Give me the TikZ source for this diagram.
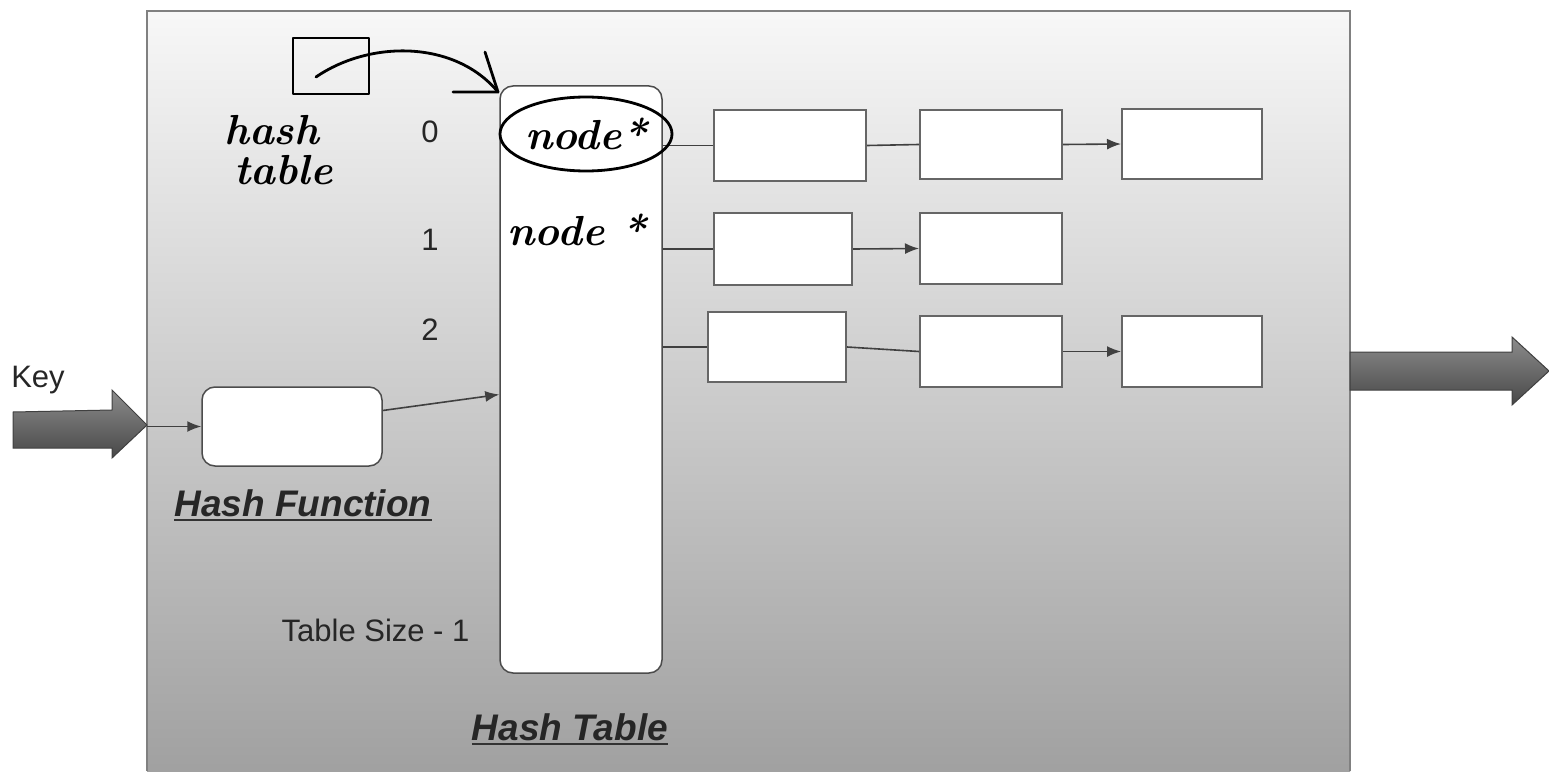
\documentclass[tikz,border=0pt]{standalone}
\usepackage{fontspec}
\newfontfamily\lab{Liberation Sans}
\usetikzlibrary{calc,arrows.meta,shapes.geometric}
\begin{document}
\begin{tikzpicture}[x=1pt,y=-1pt,
  lab/.style={font=\lab\fontsize{31}{36}\selectfont, text=black!85},
  titlelab/.style={font=\lab\bfseries\itshape\fontsize{37}{44}\selectfont, inner sep=0pt, text=black!85},
  rbox/.style={draw=black!70, line width=1.5pt, fill=white, rounded corners=13pt},
  cell/.style={draw=black!60, line width=2pt, fill=white},
  link/.style={draw=black!75, line width=1.6pt},
  arr/.style={link, -{Latex[length=14pt,width=11pt]}},
  hand/.style={line width=2.8pt, draw=black, line cap=round, line join=round},
  handtext/.style={font=\rmfamily\bfseries\itshape\fontsize{42}{38}\selectfont, inner sep=0pt},
  fatarrow/.style={draw=black!75, line width=1pt, top color=black!45, bottom color=black!72}]

\useasboundingbox (0,0) rectangle (1549,773);
\clip (0,0) rectangle (1549,773);

% background panel
\path[top color=black!3, bottom color=black!37] (147,11) rectangle (1350,771);
\draw[black!50, line width=2pt] (147,771) -- (147,11) -- (1350,11) -- (1350,771);

% fat arrows
\path[fatarrow] (13,412) -- (112,410) -- (112,390) -- (147,425) -- (112,458) -- (112,448) -- (13,448) -- cycle;
\path[fatarrow] (1350,352) -- (1512,352) -- (1512,337) -- (1549,371) -- (1512,405) -- (1512,390) -- (1350,390) -- cycle;

% main boxes
\node[rbox, minimum width=180pt, minimum height=79pt] (hf) at (292,426.5) {};
\node[rbox, minimum width=162pt, minimum height=587pt] (ht) at (581,379.5) {};

% chains
\node[cell, minimum width=152pt, minimum height=71pt] (b00) at (790,145.5) {};
\node[cell, minimum width=142pt, minimum height=69pt] (b01) at (991,144.5) {};
\node[cell, minimum width=140pt, minimum height=70pt] (b02) at (1192,144) {};
\node[cell, minimum width=138pt, minimum height=72pt] (b10) at (783,249) {};
\node[cell, minimum width=142pt, minimum height=71pt] (b11) at (991,248.5) {};
\node[cell, minimum width=138pt, minimum height=70pt] (b20) at (777,347) {};
\node[cell, minimum width=142pt, minimum height=71pt] (b21) at (991,351.5) {};
\node[cell, minimum width=140pt, minimum height=71pt] (b22) at (1192,351.5) {};

% labels
\node[lab] (key) at (38,380) {Key};
\node[lab] (i0) at (430,132) {0};
\node[lab] (i1) at (430,240) {1};
\node[lab] (i2) at (430,330) {2};
\node[lab, anchor=east] (ilast) at (473,630) {Table Size - 1};
\node[titlelab] (hfl) at (303,503) {Hash Function};
\draw[black!80, line width=2.5pt] ($(hfl.base west)+(0,4)$) -- ($(hfl.base east)+(0,4)$);
\node[titlelab] (htl) at (570,727) {Hash Table};
\draw[black!80, line width=2.5pt] ($(htl.base west)+(0,4)$) -- ($(htl.base east)+(0,4)$);

% connectors
\coordinate (keyin) at (147,426.5);
\draw[arr] (keyin) -- (hf.west);
\draw[arr] ($(hf.east)+(0,-16)$) -- ($(ht.west)+(0,15)$);
\draw[link] (ht.east |- b00.west) -- (b00.west);
\draw[link] (b00.east) -- (b01.west);
\draw[arr] (b01.east) -- (b02.west);
\draw[link] (ht.east |- b10.west) -- (b10.west);
\draw[arr] (b10.east) -- (b11.west);
\draw[link] (ht.east |- b20.west) -- (b20.west);
\draw[link] (b20.east) -- (b21.west);
\draw[arr] (b21.east) -- (b22.west);

% handwritten annotations
\node[hand, minimum width=76pt, minimum height=56pt] (ptr) at (331,66) {};
\coordinate (tip) at (498,92);
\coordinate (barb1) at (485,52);
\coordinate (barb2) at (453,92);
\draw[hand] ($(ptr.center)+(-15,11)$) .. controls (370,40) and (455,40) .. (tip);
\draw[hand] (barb1) -- (tip) -- (barb2);
\node[handtext, anchor=base west] (hname1) at (224,145) {hash};
\node[handtext, anchor=base west] (hname2) at (234,184) {table};
\node[hand, ellipse, handtext, minimum width=166pt, minimum height=74pt] (n0) at (586,134) {node*};
\node[handtext] (n1) at (577,230) {node *};
\end{tikzpicture}
\end{document}
